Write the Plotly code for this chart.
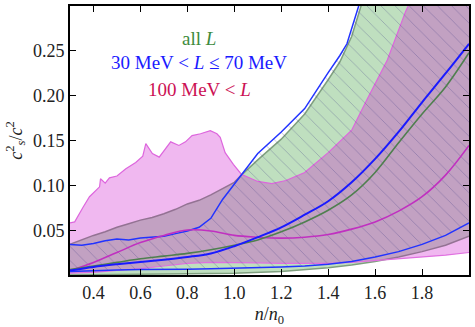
import plotly.graph_objects as go

# all L (green band)
x_green_up = [0.3, 0.35, 0.4, 0.45, 0.5, 0.55, 0.6, 0.65, 0.7, 0.75, 0.8, 0.85, 0.9, 0.95,
              1.0, 1.03, 1.1, 1.2, 1.3, 1.4, 1.45, 1.5, 1.54, 1.6, 1.7, 1.8, 1.9, 2.0]
y_green_up = [0.035, 0.040, 0.045, 0.049, 0.054, 0.058, 0.062, 0.065, 0.069, 0.074, 0.080, 0.084,
              0.090, 0.097, 0.104, 0.112, 0.129, 0.152, 0.180, 0.218, 0.238, 0.266, 0.300, 0.34,
              0.40, 0.46, 0.52, 0.58]
x_green_lo = [0.3, 0.6, 1.0, 1.2, 1.4, 1.5, 1.6, 1.7, 1.8, 1.9, 2.0]
y_green_lo = [0.001, 0.002, 0.003, 0.005, 0.009, 0.012, 0.016, 0.021, 0.027, 0.034, 0.044]
x_med = [0.3, 0.4, 0.5, 0.6, 0.7, 0.8, 0.9, 1.0, 1.1, 1.2, 1.3, 1.4, 1.5, 1.6, 1.7, 1.8, 1.9, 2.0]
y_green_med = [0.007, 0.011, 0.015, 0.019, 0.022, 0.025, 0.029, 0.034, 0.040, 0.049, 0.060,
               0.073, 0.090, 0.115, 0.148, 0.180, 0.210, 0.248]

# 30 MeV < L <= 70 MeV (blue band)
x_blue_up = [0.3, 0.35, 0.4, 0.45, 0.5, 0.55, 0.6, 0.65, 0.7, 0.75, 0.8, 0.85, 0.9, 0.95,
             1.0, 1.03, 1.1, 1.2, 1.3, 1.4, 1.45, 1.48, 1.53, 1.6, 1.7, 1.8, 1.9, 2.0]
y_blue_up = [0.035, 0.034, 0.036, 0.039, 0.041, 0.040, 0.042, 0.043, 0.044, 0.047, 0.050, 0.054,
             0.064, 0.085, 0.102, 0.113, 0.136, 0.160, 0.186, 0.226, 0.245, 0.258, 0.300, 0.35,
             0.41, 0.47, 0.53, 0.59]
y_blue_lo = [0.005, 0.006, 0.0065, 0.007, 0.007, 0.0075, 0.008, 0.0085, 0.009, 0.010, 0.011,
             0.013, 0.016, 0.021, 0.027, 0.035, 0.045, 0.059]
y_blue_med = [0.006, 0.010, 0.013, 0.0155, 0.018, 0.021, 0.025, 0.033, 0.043, 0.054, 0.068,
              0.083, 0.104, 0.130, 0.160, 0.193, 0.225, 0.258]

# 100 MeV < L (magenta band)
x_pink_up = [0.3, 0.32, 0.355, 0.383, 0.426, 0.43, 0.45, 0.468, 0.5, 0.538, 0.58, 0.61, 0.623,
             0.651, 0.68, 0.729, 0.764, 0.792, 0.82, 0.856, 0.898, 0.926, 0.94, 0.961, 0.996,
             1.03, 1.1, 1.16, 1.22, 1.3, 1.4, 1.5, 1.567, 1.652, 1.73, 1.75, 1.8, 1.9, 2.0]
y_pink_up = [0.059, 0.060, 0.076, 0.088, 0.099, 0.108, 0.103, 0.109, 0.111, 0.119, 0.126, 0.133,
             0.147, 0.136, 0.132, 0.149, 0.145, 0.149, 0.156, 0.158, 0.1615, 0.158, 0.154,
             0.137, 0.124, 0.113, 0.105, 0.1025, 0.106, 0.115, 0.137, 0.162, 0.197, 0.240,
             0.294, 0.305, 0.34, 0.41, 0.48]
y_pink_lo = [0.003, 0.004, 0.006, 0.008, 0.011, 0.014, 0.015, 0.015, 0.0145, 0.014, 0.014,
             0.014, 0.015, 0.017, 0.019, 0.021, 0.023, 0.026]
y_pink_med = [0.006, 0.015, 0.026, 0.037, 0.045, 0.051, 0.050, 0.045, 0.043, 0.042, 0.043,
              0.046, 0.052, 0.060, 0.072, 0.088, 0.112, 0.145]

x_ticks = [0.4, 0.6, 0.8, 1.0, 1.2, 1.4, 1.6, 1.8]
y_ticks = [0.05, 0.10, 0.15, 0.20, 0.25]

SERIF = "Liberation Serif"
GREEN_FILL = "rgba(0,128,0,0.25)"
PINK_FILL = "rgba(200,0,200,0.28)"

fig = go.Figure()

# green band
fig.add_trace(go.Scatter(x=x_green_lo, y=y_green_lo, mode="lines",
                         line=dict(color="#7f9f7f", width=1.5)))
fig.add_trace(go.Scatter(x=x_green_up, y=y_green_up, mode="lines", fill="tonexty",
                         fillcolor=GREEN_FILL, line=dict(color="#7f9f7f", width=1.5)))

# magenta band
fig.add_trace(go.Scatter(x=x_med, y=y_pink_lo, mode="lines",
                         line=dict(color="#e070e0", width=1.2)))
fig.add_trace(go.Scatter(x=x_pink_up, y=y_pink_up, mode="lines", fill="tonexty",
                         fillcolor=PINK_FILL, line=dict(color="#dd66dd", width=1.2)))

# blue band, hatched only
fig.add_trace(go.Scatter(x=x_med, y=y_blue_lo, mode="lines",
                         line=dict(color="#2233ff", width=1.5)))
fig.add_trace(go.Scatter(x=x_blue_up, y=y_blue_up, mode="lines", fill="tonexty",
                         fillcolor="rgba(0,0,0,0)",
                         fillpattern=dict(shape="\\", size=10, solidity=0.08,
                                          fgcolor="rgba(60,55,130,0.7)",
                                          bgcolor="rgba(0,0,0,0)"),
                         line=dict(color="#2233ff", width=1.5)))

# medians
fig.add_trace(go.Scatter(x=x_med, y=y_pink_med, mode="lines", line_shape="spline",
                         line=dict(color="#c030c0", width=1.6)))
fig.add_trace(go.Scatter(x=x_med, y=y_green_med, mode="lines", line_shape="spline",
                         line=dict(color="#4f7f4f", width=1.6)))
fig.add_trace(go.Scatter(x=x_med, y=y_blue_med, mode="lines", line_shape="spline",
                         line=dict(color="#1a1aff", width=2)))

# legend-like labels
labels = [("all <i>L</i>", "#3d8b3d", 0.878),
          ("30 MeV &lt; <i>L</i> ≤ 70 MeV", "#1a1aff", 0.789),
          ("100 MeV &lt; <i>L</i>", "#cc1155", 0.688)]
for txt, col, yy in labels:
    fig.add_annotation(text=txt, x=0.324, y=yy, xref="paper", yref="paper",
                       xanchor="center", yanchor="middle", showarrow=False,
                       font=dict(family=SERIF, size=19, color=col))

axis_common = dict(showline=True, linecolor="black", linewidth=2, mirror="ticks",
                   ticks="inside", ticklen=6, tickwidth=1, tickcolor="black",
                   showgrid=False, zeroline=False,
                   tickfont=dict(family=SERIF, size=18, color="#222"))

fig.update_xaxes(range=[0.3, 2.0], tickvals=x_ticks,
                 ticktext=[f"{v:.1f}" for v in x_ticks],
                 title=dict(text="<i>n</i>/<i>n</i><sub>0</sub>",
                            font=dict(family=SERIF, size=18, color="#222"), standoff=8),
                 **axis_common)
fig.update_yaxes(range=[0.001, 0.3], tickvals=y_ticks,
                 ticktext=[f"{v:.2f}" for v in y_ticks],
                 title=dict(text="<i>c</i><sup>2</sup><sub><i>s</i></sub>/<i>c</i><sup>2</sup>",
                            font=dict(family=SERIF, size=18, color="#222"), standoff=6),
                 **axis_common)

fig.update_layout(width=475, height=327, showlegend=False,
                  plot_bgcolor="white", paper_bgcolor="white",
                  margin=dict(l=70, r=4, t=4, b=44))

fig.write_html("out.html", config={"displayModeBar": False},
               post_script="document.body.style.margin='0';")
